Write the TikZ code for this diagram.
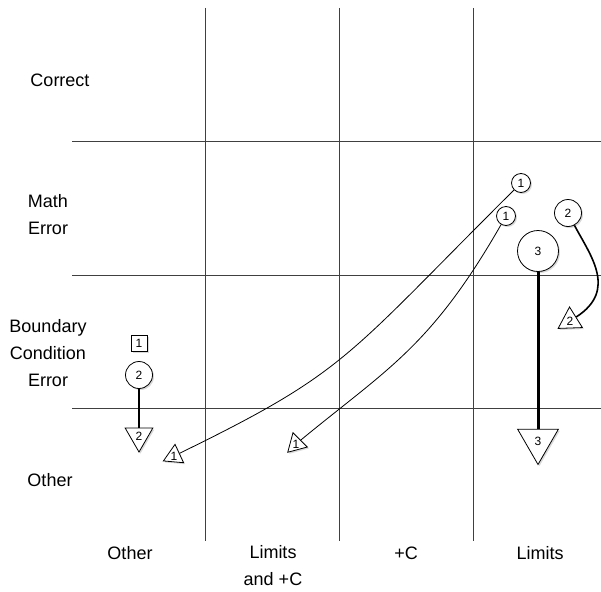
\documentclass[tikz,border=0pt]{standalone}
\usepackage{fontspec}
\setmainfont{Liberation Sans}
\usetikzlibrary{shapes.geometric, shadows}

\tikzset{
  lab/.style={align=center, font=\fontsize{18}{27}\selectfont},
  gridline/.style={black!75, line width=1pt},
  shp/.style={draw, fill=white, line width=0.8pt, inner sep=0pt,
    font=\fontsize{12}{14}\selectfont,
    drop shadow={shadow xshift=1.5pt, shadow yshift=-1.5pt, opacity=0.3}},
  circ/.style={shp, circle},
  sqr/.style={shp, rectangle, minimum size=16pt},
  tri/.style={shp, regular polygon, regular polygon sides=3},
  link/.style={line width=0.8pt},
}

\begin{document}
\begin{tikzpicture}[x=1pt, y=-1pt]
  \useasboundingbox (0,0) rectangle (601,591);
  % grid
  \foreach \x in {205,339,473} \draw[gridline] (\x,8) -- (\x,541);
  \foreach \y in {141,275,408} \draw[gridline] (72,\y) -- (601,\y);

  % row labels
  \node[lab] (rCorrect) at (60,80) {Correct};
  \node[lab] (rMath) at (48,215) {Math\\Error};
  \node[lab] (rBound) at (48,353) {Boundary\\Condition\\Error};
  \node[lab] (rOther) at (50,480) {Other};
  % column labels
  \node[lab] (cOther) at (130,553) {Other};
  \node[lab] (cLimC) at (273,566) {Limits\\and +C};
  \node[lab] (cPlusC) at (406,553) {+C};
  \node[lab] (cLim) at (540,553) {Limits};

  % starting marks
  \node[sqr] (s1) at (139,343) {1};
  \node[circ, minimum size=27pt] (c2a) at (139,375) {2};
  \node[circ, minimum size=19pt] (c1a) at (521,183) {1};
  \node[circ, minimum size=19pt] (c1b) at (506,216) {1};
  \node[circ, minimum size=27pt] (c2b) at (568,213) {2};
  \node[circ, minimum size=41pt] (c3) at (538,251) {3};

  % end marks
  \node[tri, minimum size=32pt, regular polygon rotate=180] (t2a) at (139,436) {2};
  \node[tri, minimum size=47pt, regular polygon rotate=180] (t3) at (538,441) {3};
  \node[tri, minimum size=28pt, regular polygon rotate=122] (t2b) at (570,321) {2};
  \node[tri, minimum size=23pt, regular polygon rotate=115] (t1a) at (174,456) {1};
  \node[tri, minimum size=23pt, regular polygon rotate=135] (t1b) at (296,444) {1};

  % moves
  \draw[link] (c1a) .. controls (345,358) and (348,371) .. (t1a);
  \draw[link] (c1b) .. controls (431,347) and (387,369) .. (t1b);
  \draw[line width=1.6pt] (c2b) .. controls (590,255) and (618,290) .. (t2b);
  \draw[line width=2pt] (c2a) -- (t2a);
  \draw[line width=3pt] (c3) -- (t3);
\end{tikzpicture}
\end{document}
